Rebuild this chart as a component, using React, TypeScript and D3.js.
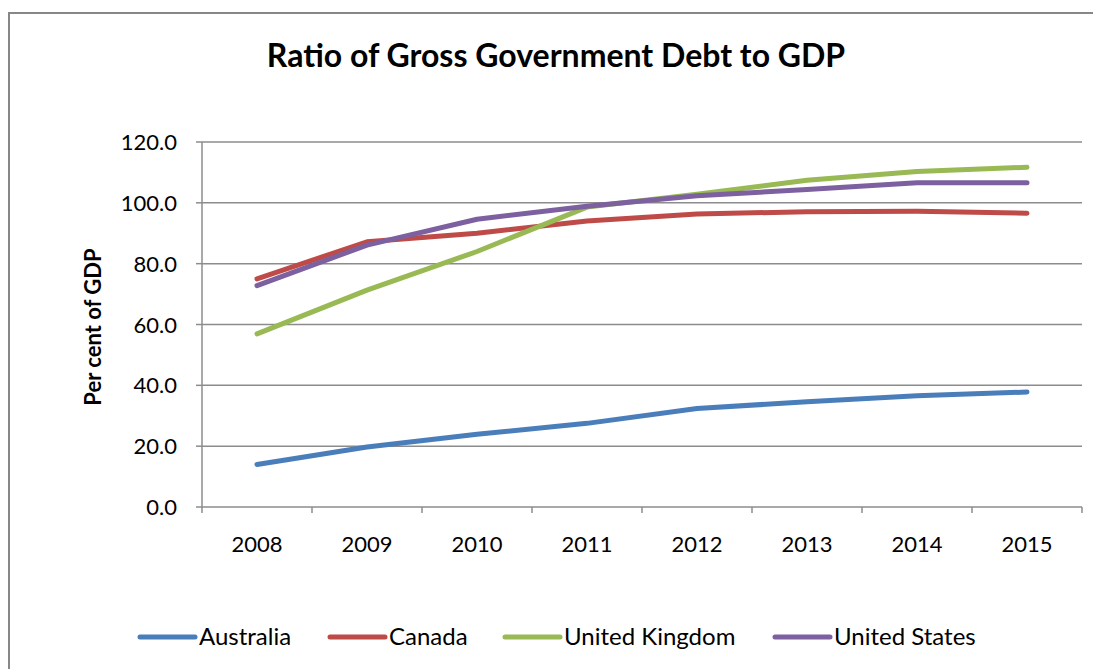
import React from "react";
import * as d3 from "d3";

const years = ["2008", "2009", "2010", "2011", "2012", "2013", "2014", "2015"];
const australia = [14.0, 19.7, 23.9, 27.5, 32.4, 34.6, 36.6, 37.8];
const canada = [75.0, 87.2, 90.0, 94.0, 96.3, 97.1, 97.2, 96.6];
const unitedKingdom = [56.9, 71.3, 84.0, 98.6, 102.8, 107.4, 110.3, 111.7];
const unitedStates = [72.8, 86.1, 94.6, 98.9, 102.3, 104.4, 106.6, 106.6];
const yTicks = [0, 20, 40, 60, 80, 100, 120];

const series = [
  { name: "Australia", values: australia, color: "#4a7ebb" },
  { name: "Canada", values: canada, color: "#be4b48" },
  { name: "United Kingdom", values: unitedKingdom, color: "#98b954" },
  { name: "United States", values: unitedStates, color: "#7d60a0" },
];

const W = 1093;
const H = 669;
const left = 202;
const right = 1082;
const top = 142;
const bottom = 507;
const font = "Lato, 'Open Sans', sans-serif";

export default function App() {
  const x = d3.scaleBand().domain(years).range([left, right]);
  const y = d3.scaleLinear().domain([0, 120]).range([bottom, top]);
  const line = d3
    .line<number>()
    .x((_, i) => (x(years[i]) as number) + x.bandwidth() / 2)
    .y((d) => y(d));
  const grid = "#8c8c8c";
  const legendX = [140, 330, 505, 775];
  return (
    <svg
      width={W}
      height={H}
      style={{ position: "absolute", left: 0, top: 0, display: "block" }}
    >
      <rect x={0} y={0} width={W} height={H} fill="#fff" />
      <rect x={9} y={13} width={W + 20} height={H + 20} fill="none" stroke="#878787" strokeWidth={2} />
      <text x={556} y={67} textAnchor="middle" fontFamily={font} fontWeight="bold" fontSize={32} fill="#000">
        Ratio of Gross Government Debt to GDP
      </text>
      {yTicks.map((t) => (
        <g key={t}>
          {t > 0 && (
            <line x1={left} x2={right} y1={y(t)} y2={y(t)} stroke={grid} strokeWidth={1.5} />
          )}
          <line x1={left - 6} x2={left} y1={y(t)} y2={y(t)} stroke={grid} strokeWidth={1.5} />
          <text x={177} y={y(t) + 8} textAnchor="end" fontFamily={font} fontSize={22} fill="#000">
            {t.toFixed(1)}
          </text>
        </g>
      ))}
      <line x1={left} x2={left} y1={top} y2={bottom} stroke={grid} strokeWidth={1.5} />
      <line x1={left} x2={right} y1={bottom} y2={bottom} stroke={grid} strokeWidth={1.5} />
      {[...years.map((yr) => x(yr) as number), right].map((px, i) => (
        <line key={i} x1={px} x2={px} y1={bottom} y2={bottom + 6} stroke={grid} strokeWidth={1.5} />
      ))}
      {years.map((yr) => (
        <text
          key={yr}
          x={(x(yr) as number) + x.bandwidth() / 2}
          y={552}
          textAnchor="middle"
          fontFamily={font}
          fontSize={22}
          fill="#000"
        >
          {yr}
        </text>
      ))}
      <text
        transform={`translate(101,327) rotate(-90)`}
        textAnchor="middle"
        fontFamily={font}
        fontWeight="bold"
        fontSize={22}
        fill="#000"
      >
        Per cent of GDP
      </text>
      {series.map((s) => (
        <path
          key={s.name}
          d={line(s.values) || ""}
          fill="none"
          stroke={s.color}
          strokeWidth={5}
          strokeLinecap="round"
          strokeLinejoin="round"
        />
      ))}
      {series.map((s, i) => (
        <g key={s.name}>
          <line
            x1={legendX[i]}
            x2={legendX[i] + 55}
            y1={637}
            y2={637}
            stroke={s.color}
            strokeWidth={5}
            strokeLinecap="round"
          />
          <text x={legendX[i] + 59} y={645} fontFamily={font} fontSize={24} fill="#000">
            {s.name}
          </text>
        </g>
      ))}
    </svg>
  );
}
